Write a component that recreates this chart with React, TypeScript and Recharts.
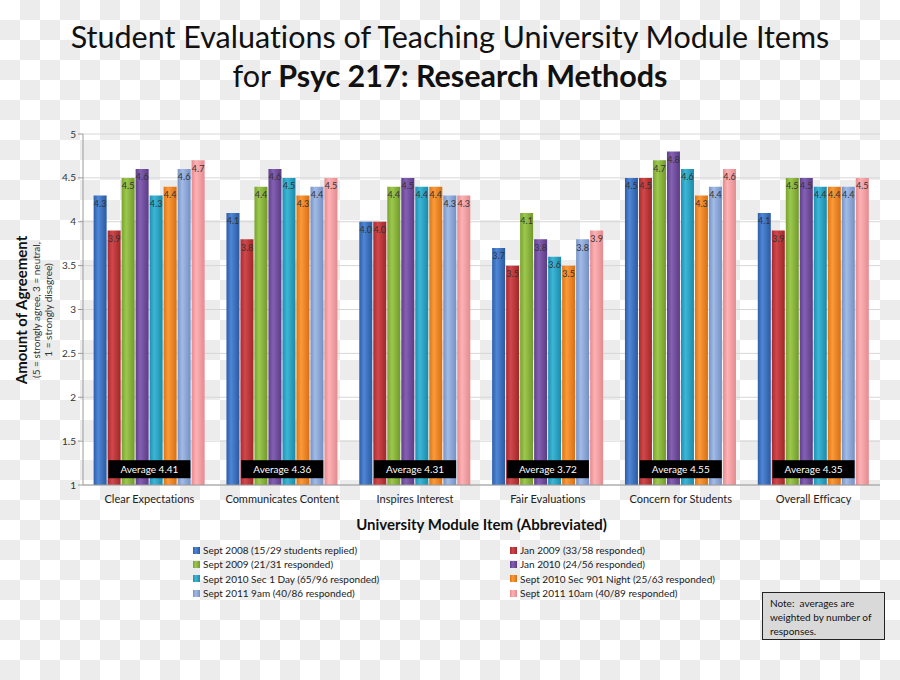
import React from "react";
import {
  BarChart,
  Bar,
  XAxis,
  YAxis,
  CartesianGrid,
  LabelList,
  ReferenceDot,
} from "recharts";

const categories = [
  "Clear Expectations",
  "Communicates Content",
  "Inspires Interest",
  "Fair Evaluations",
  "Concern for Students",
  "Overall Efficacy",
];

const seriesNames = [
  "Sept 2008 (15/29 students replied)",
  "Jan 2009 (33/58 responded)",
  "Sept 2009 (21/31 responded)",
  "Jan 2010 (24/56 responded)",
  "Sept 2010 Sec 1 Day (65/96 responded)",
  "Sept 2010 Sec 901 Night (25/63 responded)",
  "Sept 2011 9am (40/86 responded)",
  "Sept 2011 10am (40/89 responded)",
];

const sept2008 = [4.3, 4.1, 4.0, 3.7, 4.5, 4.1];
const jan2009 = [3.9, 3.8, 4.0, 3.5, 4.5, 3.9];
const sept2009 = [4.5, 4.4, 4.4, 4.1, 4.7, 4.5];
const jan2010 = [4.6, 4.6, 4.5, 3.8, 4.8, 4.5];
const sept2010Day = [4.3, 4.5, 4.4, 3.6, 4.6, 4.4];
const sept2010Night = [4.4, 4.3, 4.4, 3.5, 4.3, 4.4];
const sept2011am9 = [4.6, 4.4, 4.3, 3.8, 4.4, 4.4];
const sept2011am10 = [4.7, 4.5, 4.3, 3.9, 4.6, 4.5];

const seriesValues = [
  sept2008,
  jan2009,
  sept2009,
  jan2010,
  sept2010Day,
  sept2010Night,
  sept2011am9,
  sept2011am10,
];

const averages = [4.41, 4.36, 4.31, 3.72, 4.55, 4.35];

const yTicks = [1, 1.5, 2, 2.5, 3, 3.5, 4, 4.5, 5];

const colors = [
  ["#2c5ea8", "#4f86d6", "#2a5aa0"],
  ["#a82a2e", "#d0484b", "#a02628"],
  ["#78a22e", "#9cc84e", "#72992b"],
  ["#5f3f8c", "#8560b3", "#5a3b85"],
  ["#1e90b0", "#3cb6d6", "#1c89a8"],
  ["#dd7414", "#fb9a3a", "#d86f12"],
  ["#7592c6", "#a2bbe6", "#7390c4"],
  ["#e58a8e", "#fdb2b5", "#e48a8e"],
];

const data = categories.map((c, i) => {
  const row: Record<string, number | string> = { name: c };
  seriesValues.forEach((s, j) => {
    row["s" + j] = s[i];
  });
  return row;
});

const FONT = "Lato, 'Open Sans', sans-serif";

const AvgBox = (text: string) => (props: any) => {
  const { cx, cy } = props;
  return (
    <g>
      <rect x={cx - 41} y={cy - 9} width={82} height={18} fill="#000" />
      <text
        x={cx}
        y={cy + 3.5}
        textAnchor="middle"
        fill="#fff"
        fontSize={10}
        fontFamily={FONT}
      >
        {text}
      </text>
    </g>
  );
};

export default function App() {
  const checker =
    "linear-gradient(45deg, #ececec 25%, transparent 25%, transparent 75%, #ececec 75%), linear-gradient(45deg, #ececec 25%, transparent 25%, transparent 75%, #ececec 75%)";
  return (
    <div
      style={{
        position: "fixed",
        left: 0,
        top: 0,
        width: 900,
        height: 680,
        backgroundColor: "#fff",
        backgroundImage: checker,
        backgroundSize: "40px 40px",
        backgroundPosition: "0 0, 20px 20px",
        fontFamily: FONT,
        fontVariantLigatures: "none",
        overflow: "hidden",
      }}
    >
      <div
        style={{
          position: "absolute",
          left: 0,
          top: 17,
          width: 900,
          textAlign: "center",
          fontSize: 30.5,
          lineHeight: "39px",
          color: "#111",
        }}
      >
        <div>Student Evaluations of Teaching University Module Items</div>
        <div>
          for <b>Psyc 217: Research Methods</b>
        </div>
      </div>

      <div style={{ position: "absolute", left: 0, top: 0 }}>
        <BarChart
          width={900}
          height={680}
          data={data}
          margin={{ top: 134, right: 20, bottom: 165, left: 23 }}
          barCategoryGap="8%"
          barGap={1}
        >
          <defs>
            {colors.map((c, i) => (
              <linearGradient key={i} id={"grad" + i} x1="0" y1="0" x2="1" y2="0">
                <stop offset="0%" stopColor={c[0]} />
                <stop offset="35%" stopColor={c[1]} />
                <stop offset="100%" stopColor={c[2]} />
              </linearGradient>
            ))}
          </defs>
          <CartesianGrid vertical={false} stroke="#d6d6d6" />
          <XAxis
            dataKey="name"
            stroke="#9a9a9a"
            tickLine={false}
            tick={{ fontSize: 11, fill: "#222", fontFamily: FONT }}
            tickMargin={4}
            height={30}
          />
          <YAxis
            domain={[1, 5]}
            ticks={yTicks}
            stroke="#9a9a9a"
            tickSize={5}
            width={60}
            tick={{ fontSize: 10, fill: "#333", fontFamily: FONT }}
            allowDataOverflow
          />
          {seriesValues.map((_, j) => (
            <Bar
              key={j}
              dataKey={"s" + j}
              name={seriesNames[j]}
              fill={"url(#grad" + j + ")"}
              isAnimationActive={false}
            >
              <LabelList
                dataKey={"s" + j}
                position="insideTop"
                offset={5}
                fontSize={9}
                fill="#333"
                fontFamily={FONT}
                formatter={(v: any) => Number(v).toFixed(1)}
              />
            </Bar>
          ))}
          {categories.map((c, i) => (
            <ReferenceDot
              key={c}
              x={c}
              y={1.18}
              r={0}
              ifOverflow="visible"
              shape={AvgBox("Average " + averages[i].toFixed(2))}
            />
          ))}
        </BarChart>
      </div>

      {/* Y axis titles */}
      <div
        style={{
          position: "absolute",
          left: 33,
          top: 310,
          transform: "translate(-50%, -50%) rotate(-90deg)",
          whiteSpace: "nowrap",
          textAlign: "center",
          color: "#111",
        }}
      >
        <div style={{ fontSize: 15, fontWeight: 700, lineHeight: "19px" }}>
          Amount of Agreement
        </div>
        <div style={{ fontSize: 10, lineHeight: "11px", color: "#333" }}>
          (5 = strongly agree, 3 = neutral,
        </div>
        <div style={{ fontSize: 10, lineHeight: "12px", color: "#333" }}>
          1 = strongly disagree)
        </div>
      </div>

      {/* X axis title */}
      <div
        style={{
          position: "absolute",
          left: 83,
          width: 797,
          top: 515,
          textAlign: "center",
          fontSize: 15,
          fontWeight: 700,
          color: "#111",
        }}
      >
        University Module Item (Abbreviated)
      </div>

      {/* Legend */}
      {seriesNames.map((n, j) => {
        const col = j % 2;
        const row = Math.floor(j / 2);
        return (
          <div
            key={n}
            style={{
              position: "absolute",
              left: col === 0 ? 193 : 510,
              top: 543 + row * 14.4,
              height: 14,
              display: "flex",
              alignItems: "center",
              fontSize: 10,
              color: "#222",
              whiteSpace: "nowrap",
            }}
          >
            <span
              style={{
                display: "inline-block",
                width: 7,
                height: 7,
                marginRight: 3,
                background: `linear-gradient(90deg, ${colors[j][0]}, ${colors[j][1]} 40%, ${colors[j][2]})`,
              }}
            />
            {n}
          </div>
        );
      })}

      {/* Note */}
      <div
        style={{
          position: "absolute",
          left: 762,
          top: 592,
          width: 123,
          height: 48,
          boxSizing: "border-box",
          background: "#d9d9d9",
          border: "1.5px solid #222",
          padding: "3px 7px",
          fontSize: 10,
          lineHeight: "14px",
          color: "#111",
        }}
      >
        Note:&nbsp; averages are weighted by number of responses.
      </div>
    </div>
  );
}
